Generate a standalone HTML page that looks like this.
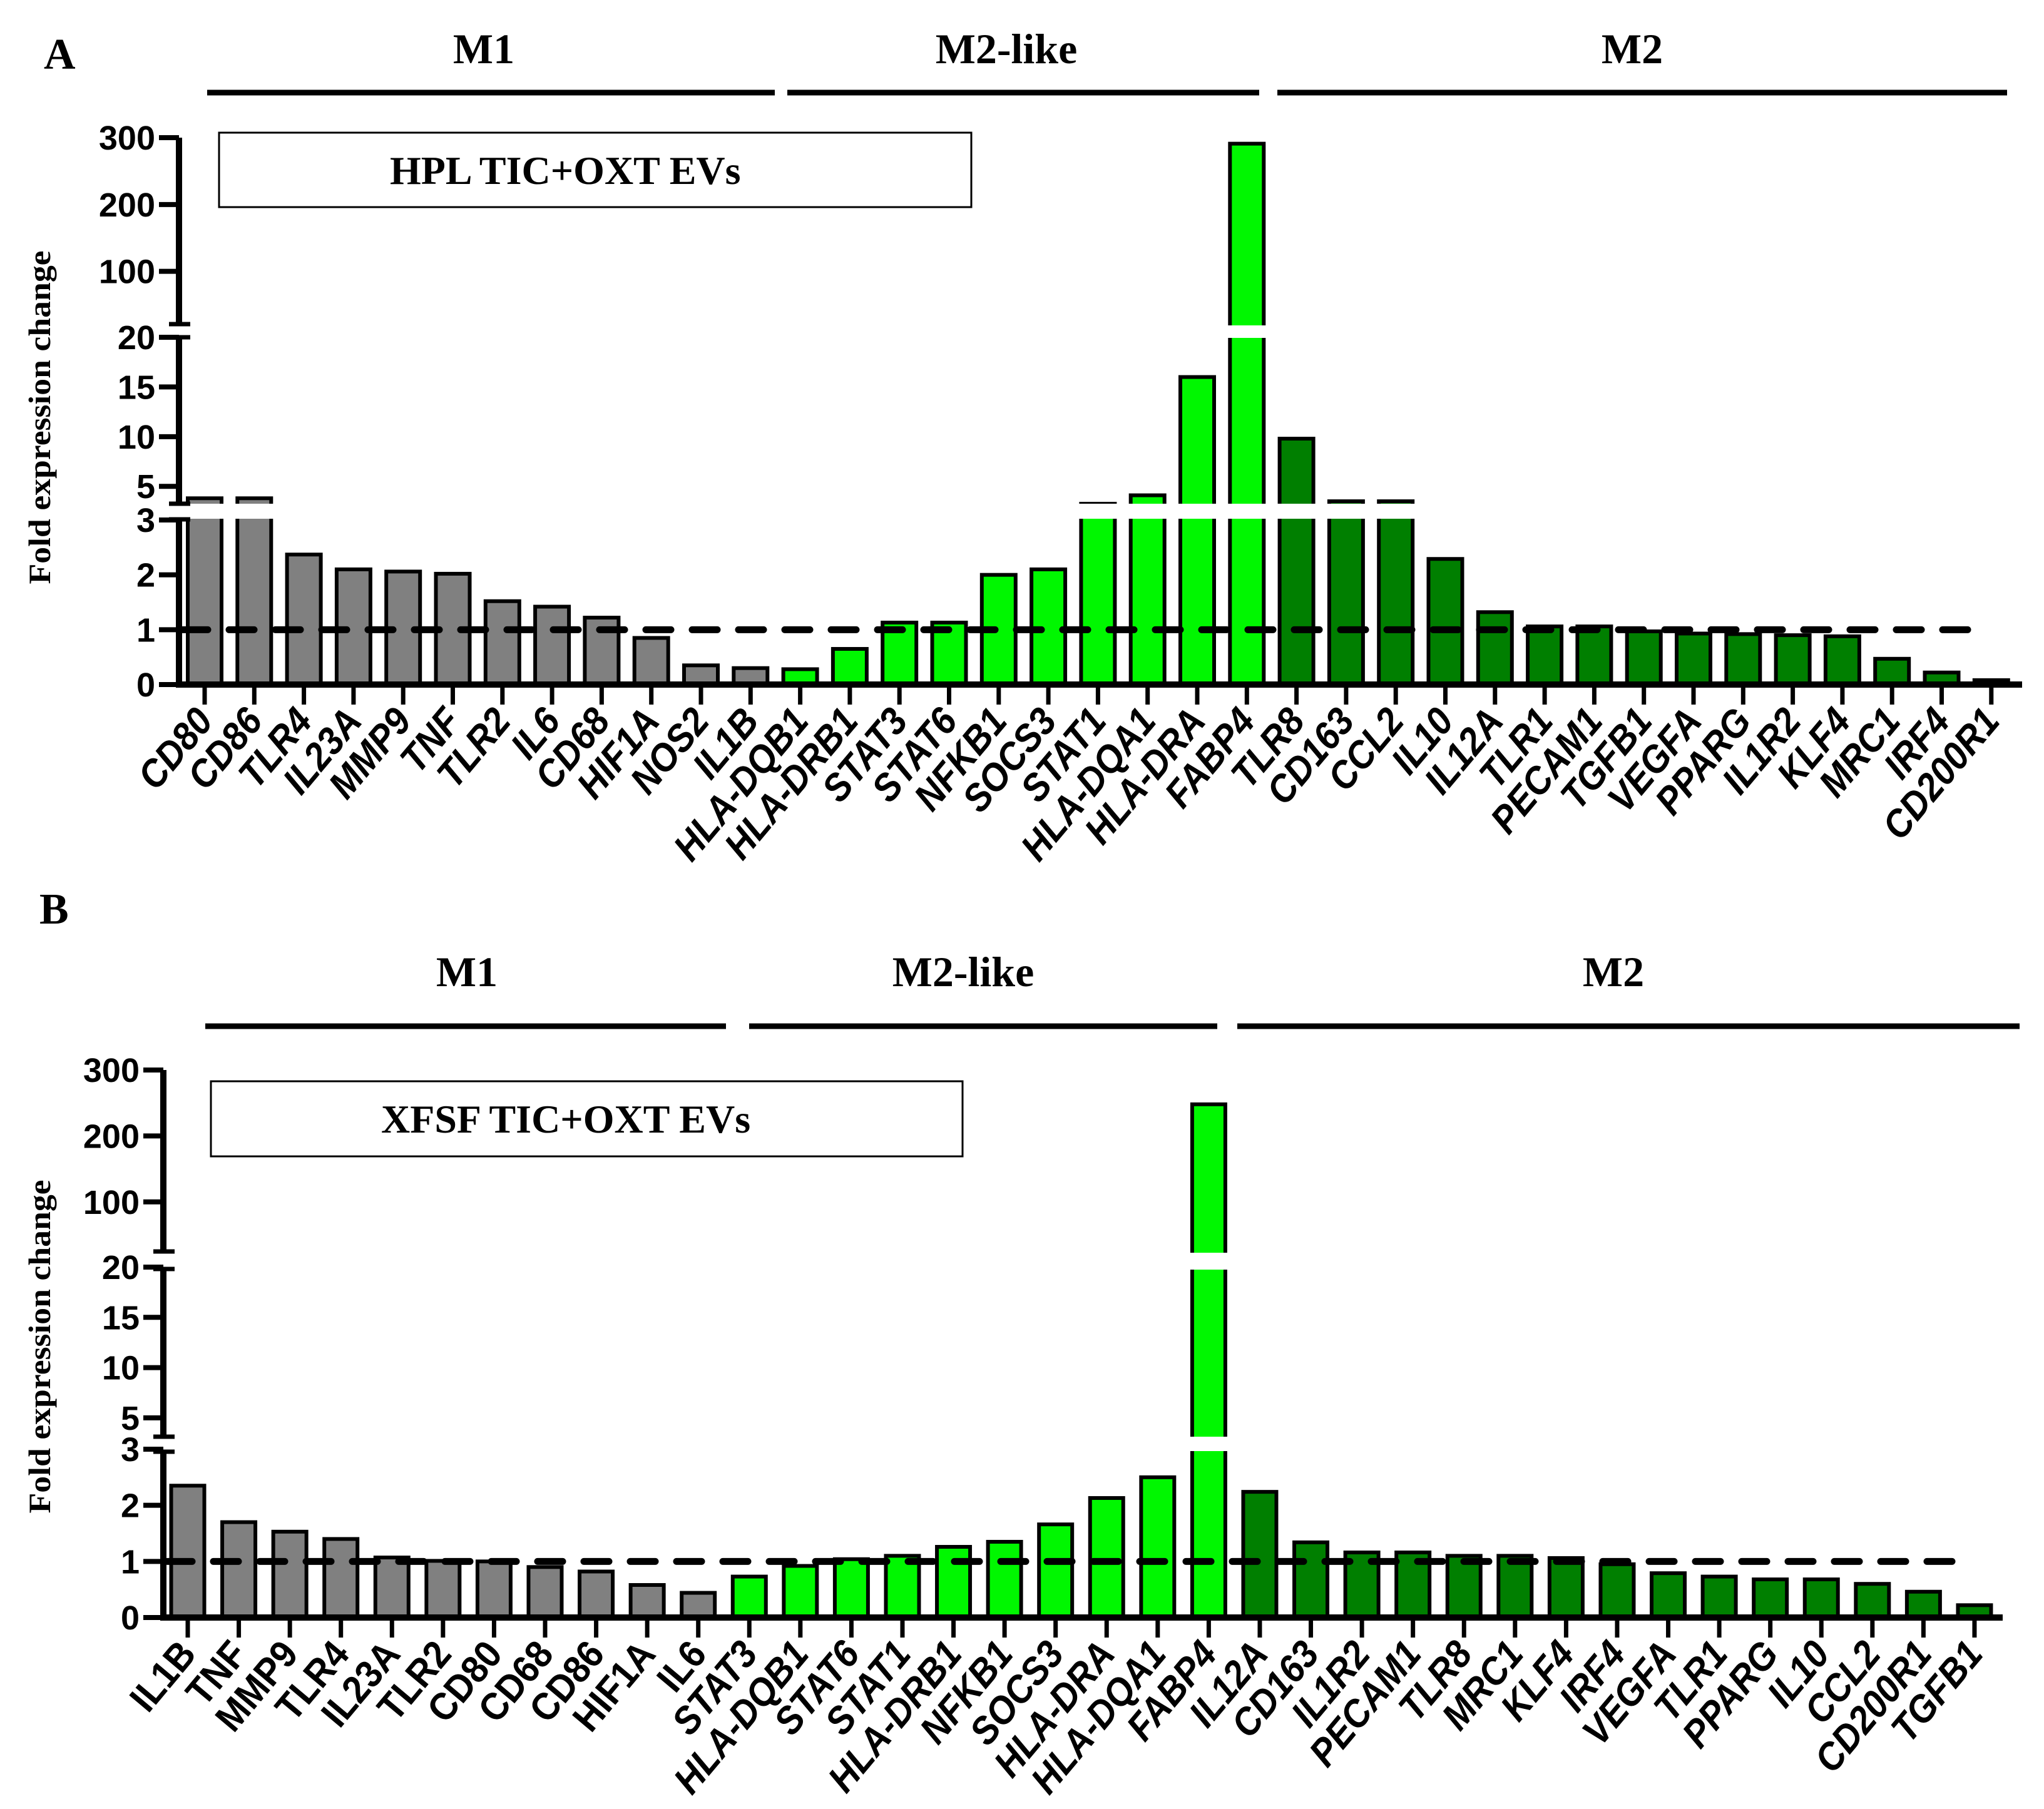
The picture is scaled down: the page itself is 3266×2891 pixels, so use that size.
<!DOCTYPE html>
<html><head><meta charset="utf-8"><style>
html,body{margin:0;padding:0;background:#fff}
svg{display:block}
</style></head><body>
<svg id="chart" width="3266" height="2891" viewBox="0 0 3266 2891" xmlns="http://www.w3.org/2000/svg"></svg>
<script>
// ---- Data panel A ----
const catsA = ["CD80","CD86","TLR4","IL23A","MMP9","TNF","TLR2","IL6","CD68","HIF1A","NOS2","IL1B",
"HLA-DQB1","HLA-DRB1","STAT3","STAT6","NFKB1","SOCS3","STAT1","HLA-DQA1","HLA-DRA","FABP4",
"TLR8","CD163","CCL2","IL10","IL12A","TLR1","PECAM1","TGFB1","VEGFA","PPARG","IL1R2","KLF4","MRC1","IRF4","CD200R1"];
const valsA = [3.8,3.8,2.37,2.1,2.06,2.02,1.52,1.42,1.22,0.85,0.35,0.3,
0.28,0.65,1.13,1.13,2.0,2.1,3.25,4.1,16,291,
9.8,3.5,3.5,2.29,1.32,1.06,1.06,0.97,0.93,0.92,0.9,0.88,0.47,0.22,0.08];
const groupsA = [12,10,15];
// ---- Data panel B ----
const catsB = ["IL1B","TNF","MMP9","TLR4","IL23A","TLR2","CD80","CD68","CD86","HIF1A","IL6",
"STAT3","HLA-DQB1","STAT6","STAT1","HLA-DRB1","NFKB1","SOCS3","HLA-DRA","HLA-DQA1","FABP4",
"IL12A","CD163","IL1R2","PECAM1","TLR8","MRC1","KLF4","IRF4","VEGFA","TLR1","PPARG","IL10","CCL2","CD200R1","TGFB1"];
const valsB = [2.35,1.7,1.53,1.4,1.07,1.01,1.0,0.9,0.82,0.58,0.44,
0.73,0.92,1.04,1.1,1.26,1.35,1.66,2.13,2.5,248,
2.24,1.34,1.16,1.16,1.1,1.1,1.06,0.95,0.79,0.73,0.68,0.68,0.6,0.46,0.22];
const groupsB = [11,10,15];
const yTickLabels = ["0","1","2","3","5","10","15","20","100","200","300"];
const yTickVals = [0,1,2,3,5,10,15,20,100,200,300];
const groupNames = ["M1","M2-like","M2"];
const colors = ["#808080","#00F700","#007F00"];

const NS="http://www.w3.org/2000/svg";
const svg=document.getElementById('chart');
function el(tag,attrs,parent){const e=document.createElementNS(NS,tag);for(const k in attrs)e.setAttribute(k,attrs[k]);(parent||svg).appendChild(e);return e;}

const panels=[
 {letter:"A",lx:70,ly:110,cats:catsA,vals:valsA,groups:groupsA,axisX:286,x0:327,step:79.3,bw:54,xEnd:3231,dashEnd:3173,
  seg:{b0:1094,b3:831,m3:809,m20:539,t22:517,t300:220},gapL:[805,829],gapU:[520,540],
  box:[350,212,1552,331],boxText:"HPL TIC+OXT EVs",boxTx:623,boxTy:294,
  lines:[[331,1238],[1258,2012],[2041,3207]],lineY:148,hx:[773,1608,2608],hy:101,titleY:667,m1Italic:true},
 {letter:"B",lx:63,ly:1476,cats:catsB,vals:valsB,groups:groupsB,axisX:261,x0:300,step:81.57,bw:53,xEnd:3200,dashEnd:3144,
  seg:{b0:2585,b3:2316,m3:2298,m20:2025,t22:2003,t300:1710},gapL:[2296,2319],gapU:[2002,2029],
  box:[337,1728,1538,1848],boxText:"XFSF TIC+OXT EVs",boxTx:609,boxTy:1810,
  lines:[[328,1160],[1197,1945],[1977,3227]],lineY:1640,hx:[746,1539,2578],hy:1576,titleY:2152,m1Italic:false}
];

panels.forEach((P,pi)=>{
 const g=el('g',{});
 
 
 const S=P.seg;
 function y(v){
  if(v<=3) return S.b0+(S.b3-S.b0)*v/3;
  if(v<=20) return S.m3+(S.m20-S.m3)*(v-3)/17;
  return S.t22+((S.t300-S.t22)/(300-22))*(v-22);
 }
 function x(i){return P.x0+i*P.step;}
 const L=el('text',{x:P.lx,y:P.ly,'font-family':'"Liberation Serif",serif','font-weight':'bold','font-size':70},g);
 L.textContent=P.letter;
 
 
 P.lines.forEach((ln,k)=>{
  const l=el('line',{x1:ln[0],x2:ln[1],y1:P.lineY,y2:P.lineY,stroke:'#000','stroke-width':9},g);
  
  
  const t=el('text',{x:P.hx[k],y:P.hy,'text-anchor':'middle','font-family':'"Liberation Serif",serif','font-weight':'bold','font-size':68},g);
  t.textContent=groupNames[k];
  
  
 });
 const b=P.box;
 const r=el('rect',{x:b[0],y:b[1],width:b[2]-b[0],height:b[3]-b[1],fill:'#fff',stroke:'#000','stroke-width':3},g);
 
 
 const bt=el('text',{x:P.boxTx,y:P.boxTy,'font-family':'"Liberation Serif",serif','font-weight':'bold','font-size':64},g);
 bt.textContent=P.boxText;
 
 
 const yt=el('text',{x:0,y:0,transform:`translate(80 ${P.titleY}) rotate(-90)`,'text-anchor':'middle','font-family':'"Liberation Serif",serif','font-weight':'bold','font-size':50,textLength:533,lengthAdjust:'spacingAndGlyphs'},g);
 yt.textContent="Fold expression change";
 
 
 let gi=0,cnt=0;
 P.vals.forEach((v,i)=>{
  while(cnt>=P.groups[gi]){cnt-=P.groups[gi];gi++;}
  cnt++;
  const yt2=y(v);
  const bx=x(i)-P.bw/2;
  const rb=el('rect',{x:bx,y:yt2,width:P.bw,height:S.b0-yt2,fill:colors[gi],stroke:'#000','stroke-width':6},g);
  
  
  if(v>3){
   const w1=el('rect',{x:bx-5,y:P.gapL[0],width:P.bw+10,height:P.gapL[1]-P.gapL[0],fill:'#fff'},g);
   
   
  }
  if(v>22){
   const w2=el('rect',{x:bx-5,y:P.gapU[0],width:P.bw+10,height:P.gapU[1]-P.gapU[0],fill:'#fff'},g);
   
   
  }
  const tk=el('line',{x1:x(i),x2:x(i),y1:S.b0,y2:S.b0+32,stroke:'#000','stroke-width':7},g);
  
  
  const italic = !(gi===0 && !P.m1Italic);
  const lb=el('text',{x:0,y:0,transform:`translate(${x(i)+16} ${S.b0+60}) rotate(-50) scale(0.92 1)`,'text-anchor':'end','font-family':'"Liberation Sans",sans-serif','font-weight':'bold','font-style':italic?'italic':'normal','font-size':62},g);
  lb.textContent=P.cats[i];
  
  
 });
 const dl=el('line',{x1:P.axisX+6,x2:P.dashEnd,y1:y(1),y2:y(1),stroke:'#000','stroke-width':11,'stroke-dasharray':'40 34','stroke-linecap':'round'},g);
 
 
 const xa=el('line',{x1:P.axisX-5,x2:P.xEnd,y1:S.b0,y2:S.b0,stroke:'#000','stroke-width':10},g);
 
 
 const segs=[[S.t300,P.gapU[0]-2],[P.gapU[1]-1,P.gapL[0]],[P.gapL[1]+1,S.b0+5]];
 segs.forEach(s=>{
  const a=el('line',{x1:P.axisX,x2:P.axisX,y1:s[0],y2:s[1],stroke:'#000','stroke-width':10},g);
  
  
 });
 [P.gapU[0]-2,P.gapU[1]-1,P.gapL[0],P.gapL[1]+1].forEach(yy=>{
  const c=el('line',{x1:P.axisX-16,x2:P.axisX+18,y1:yy,y2:yy,stroke:'#000','stroke-width':7},g);
  
  
 });
 yTickVals.forEach((tv,k)=>{
  const yy=y(tv);
  const t=el('line',{x1:P.axisX-32,x2:P.axisX,y1:yy,y2:yy,stroke:'#000','stroke-width':8},g);
  
  
  const tl=el('text',{x:P.axisX-38,y:yy+19,'text-anchor':'end','font-family':'"Liberation Sans",sans-serif','font-weight':'bold','font-size':54},g);
  tl.textContent=yTickLabels[k];
  
  
 });
});
</script>
</body></html>
